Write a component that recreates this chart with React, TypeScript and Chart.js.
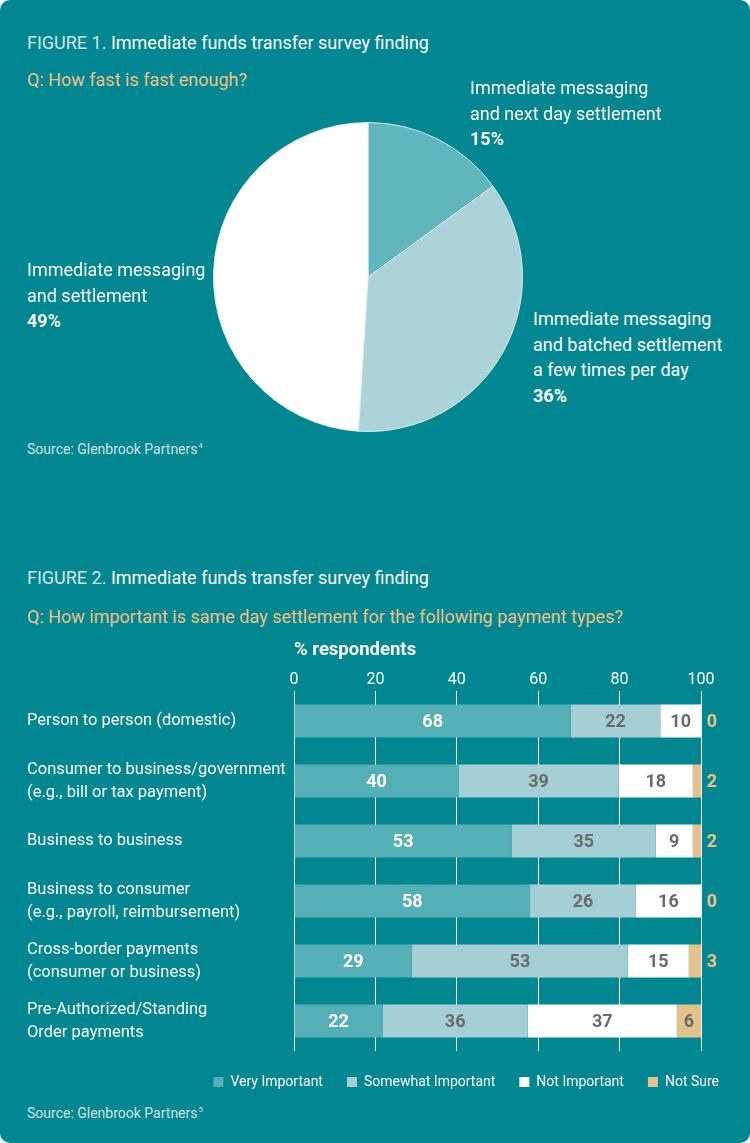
import React, { useEffect, useRef } from 'react';
import { Chart, registerables } from 'chart.js';

Chart.register(...registerables);

// ---------- data ----------
const pieLabels = [
  'Immediate messaging and next day settlement',
  'Immediate messaging and batched settlement a few times per day',
  'Immediate messaging and settlement',
];
const pieValues = [15, 36, 49];

const categories: (string | string[])[] = [
  'Person to person (domestic)',
  ['Consumer to business/government', '(e.g., bill or tax payment)'],
  'Business to business',
  ['Business to consumer', '(e.g., payroll, reimbursement)'],
  ['Cross-border payments', '(consumer or business)'],
  ['Pre-Authorized/Standing', 'Order payments'],
];
const seriesNames = ['Very Important', 'Somewhat Important', 'Not Important', 'Not Sure'];
const veryImportant = [68, 40, 53, 58, 29, 22];
const somewhatImportant = [22, 39, 35, 26, 53, 36];
const notImportant = [10, 18, 9, 16, 15, 37];
const notSure = [0, 2, 2, 0, 3, 6];
const xTickValues = [0, 20, 40, 60, 80, 100];

// ---------- styles ----------
const BG = '#008791';
const ORANGE = '#efc184';
const GREY = '#6b6b6b';
const SOURCE = '#d3e3e5';
const FONT = 'Roboto';
const pieColors = ['#5fb6bd', '#acd4d8', '#ffffff'];
const barColors = ['#55afb7', '#a3cfd5', '#ffffff', '#e3c28c'];

const rawSeries = [veryImportant, somewhatImportant, notImportant, notSure];
const rowTotals = categories.map((_, i) => rawSeries.reduce((s, arr) => s + arr[i], 0));

const barLabelPlugin = {
  id: 'barLabels',
  afterDatasetsDraw(chart: any) {
    const { ctx, chartArea } = chart;
    ctx.save();
    ctx.font = `bold 18px ${FONT}`;
    ctx.textAlign = 'center';
    ctx.textBaseline = 'middle';
    chart.data.datasets.forEach((_: any, di: number) => {
      const meta = chart.getDatasetMeta(di);
      meta.data.forEach((el: any, i: number) => {
        const v = rawSeries[di][i];
        const p = el.getProps(['x', 'y', 'base'], true);
        const cx = (p.x + p.base) / 2;
        if (di === 3) {
          if (v >= 5) {
            ctx.fillStyle = GREY;
            ctx.fillText(String(v), cx, p.y + 1);
          } else {
            ctx.fillStyle = ORANGE;
            ctx.fillText(String(v), chartArea.right + 11, p.y + 1);
          }
        } else {
          ctx.fillStyle = di === 0 ? '#ffffff' : GREY;
          ctx.fillText(String(v), cx, p.y + 1);
        }
      });
    });
    ctx.restore();
  },
};

const abs = (left: number, top: number, extra: any = {}) => ({
  position: 'absolute' as const,
  left,
  top,
  whiteSpace: 'nowrap' as const,
  ...extra,
});

const Sup = ({ children }: any) => (
  <span style={{ fontSize: 8, position: 'relative', top: -6, marginLeft: 1 }}>{children}</span>
);

export default function App() {
  const pieRef = useRef<HTMLCanvasElement>(null);
  const barRef = useRef<HTMLCanvasElement>(null);

  useEffect(() => {
    const pie = new Chart(pieRef.current as HTMLCanvasElement, {
      type: 'pie',
      data: {
        labels: pieLabels,
        datasets: [
          {
            data: pieValues,
            backgroundColor: pieColors,
            borderColor: 'rgba(225,240,242,0.9)',
            borderWidth: 1,
          },
        ],
      },
      options: {
        responsive: false,
        animation: false,
        layout: { padding: 10 },
        plugins: { legend: { display: false }, tooltip: { enabled: false } },
      },
    } as any);

    const bar = new Chart(barRef.current as HTMLCanvasElement, {
      type: 'bar',
      data: {
        labels: categories,
        datasets: rawSeries.map((arr, i) => ({
          label: seriesNames[i],
          data: arr.map((v, j) => (v / rowTotals[j]) * 100),
          backgroundColor: barColors[i],
          borderWidth: 0,
          barPercentage: 0.55,
          categoryPercentage: 1,
        })),
      },
      options: {
        indexAxis: 'y',
        responsive: false,
        animation: false,
        layout: { padding: { left: 27, right: 7, top: 0, bottom: 0 } },
        plugins: {
          legend: {
            position: 'bottom',
            align: 'end',
            labels: {
              color: '#ffffff',
              boxWidth: 10,
              boxHeight: 10,
              padding: 24,
              font: { family: FONT, size: 14 },
            },
          },
          tooltip: { enabled: false },
        },
        scales: {
          x: {
            position: 'top',
            stacked: true,
            min: 0,
            max: 100,
            afterBuildTicks: (s: any) => {
              s.ticks = xTickValues.map((v) => ({ value: v }));
            },
            ticks: {
              color: '#ffffff',
              font: { family: FONT, size: 16 },
              padding: 1,
            },
            grid: { color: '#ffffff', lineWidth: 1, drawTicks: false },
            border: { display: false },
            title: {
              display: true,
              text: '% respondents',
              align: 'start',
              color: '#ffffff',
              font: { family: FONT, size: 18.5, weight: 'bold' },
              padding: { top: 9, bottom: 0 },
            },
            afterFit: (s: any) => {
              s.height = 61;
            },
          },
          y: {
            stacked: true,
            ticks: {
              color: '#ffffff',
              crossAlign: 'far',
              font: { family: FONT, size: 16.5, lineHeight: 1.394 },
            },
            grid: { display: false },
            border: { display: false },
            afterFit: (s: any) => {
              s.width = 267;
            },
          },
          yRight: {
            type: 'category',
            axis: 'y',
            position: 'right',
            ticks: { display: false },
            grid: { display: false },
            border: { display: false },
            afterFit: (s: any) => {
              s.width = 42;
            },
          },
        },
      },
      plugins: [barLabelPlugin],
    } as any);

    return () => {
      pie.destroy();
      bar.destroy();
    };
  }, []);

  const txt18 = { fontSize: 18, lineHeight: '25.5px' };

  return (
    <div
      style={{
        position: 'absolute',
        left: 0,
        top: 0,
        width: 750,
        height: 1143,
        background: BG,
        borderRadius: 10,
        overflow: 'hidden',
        fontFamily: FONT,
        color: '#ffffff',
      }}
    >
      <div style={abs(27, 31, { fontSize: 18, lineHeight: '24px' })}>
        <span style={{ color: '#d6e6e8' }}>FIGURE 1.</span> Immediate funds transfer survey finding
      </div>
      <div style={abs(27, 68, { fontSize: 18, lineHeight: '24px', color: ORANGE })}>
        Q: How fast is fast enough?
      </div>

      <canvas ref={pieRef} width={330} height={330} style={{ position: 'absolute', left: 203, top: 112 }} />

      <div style={abs(470, 75, txt18)}>
        Immediate messaging
        <br />
        and next day settlement
        <br />
        <b>{pieValues[0]}%</b>
      </div>
      <div style={abs(533, 306, txt18)}>
        Immediate messaging
        <br />
        and batched settlement
        <br />
        a few times per day
        <br />
        <b>{pieValues[1]}%</b>
      </div>
      <div style={abs(27, 257, txt18)}>
        Immediate messaging
        <br />
        and settlement
        <br />
        <b>{pieValues[2]}%</b>
      </div>
      <div style={abs(27, 440, { fontSize: 14, lineHeight: '18px', color: SOURCE })}>
        Source: Glenbrook Partners<Sup>4</Sup>
      </div>

      <div style={abs(27, 566, { fontSize: 18, lineHeight: '24px' })}>
        <span style={{ color: '#d6e6e8' }}>FIGURE 2.</span> Immediate funds transfer survey finding
      </div>
      <div style={abs(27, 605, { fontSize: 18, lineHeight: '24px', color: ORANGE })}>
        Q: How important is same day settlement for the following payment types?
      </div>

      <canvas ref={barRef} width={750} height={469} style={{ position: 'absolute', left: 0, top: 630 }} />

      <div style={abs(27, 1104, { fontSize: 14, lineHeight: '18px', color: SOURCE })}>
        Source: Glenbrook Partners<Sup>5</Sup>
      </div>
    </div>
  );
}
